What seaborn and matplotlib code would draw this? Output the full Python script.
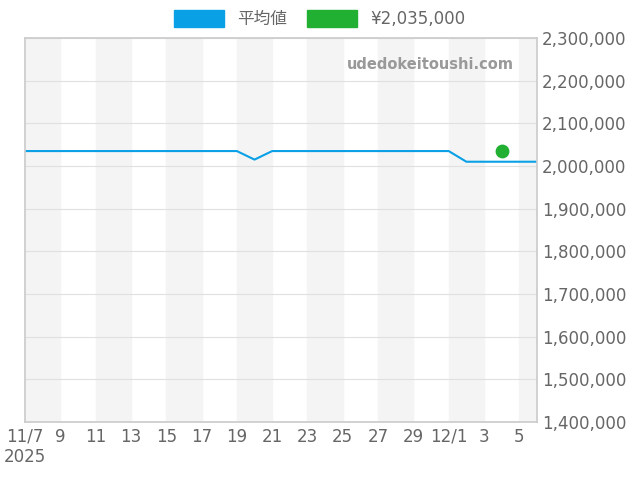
import matplotlib.pyplot as plt
import matplotlib.patches as mpatches
import numpy as np
import pandas as pd
import seaborn as sns

dates = pd.date_range("2025-11-07", "2025-12-06", freq="D")
avg_prices = [2035000] * 13 + [2015000] + [2035000] * 11 + [2010000] * 5
point_date = pd.Timestamp("2025-12-04")
point_price = 2035000

df = pd.DataFrame({"date": dates, "price": avg_prices})

sns.set_theme(style="white")
plt.rcParams["font.family"] = ["DejaVu Sans", "Noto Sans CJK JP"]

fig = plt.figure(figsize=(6.4, 4.8), dpi=100)
ax = fig.add_axes([25 / 640, 58 / 480, 512 / 640, 384 / 480])

start = pd.Timestamp("2025-11-07")
for i in range(0, 30, 4):
    ax.axvspan(start + pd.Timedelta(days=i), start + pd.Timedelta(days=i + 2),
               color="#f4f4f4", zorder=0)

sns.lineplot(data=df, x="date", y="price", color="#0aa0e6", linewidth=1.5, ax=ax)
ax.scatter([point_date], [point_price], color="#22b033", s=80, zorder=3)

ax.set_ylim(1400000, 2300000)
ax.set_xlim(start, pd.Timestamp("2025-12-06"))
ax.yaxis.tick_right()
ax.set_yticks(np.arange(1400000, 2300001, 100000))
ax.yaxis.set_major_formatter(plt.FuncFormatter(lambda v, p: f"{int(v):,}"))
ax.grid(axis="y", color="#e0e0e0", linewidth=0.8)
ax.set_axisbelow(True)

ticks = pd.date_range("2025-11-07", "2025-12-05", freq="2D")
labels = []
for t in ticks:
    if t == start:
        labels.append("11/7\n2025")
    elif t.day == 1:
        labels.append("12/1")
    else:
        labels.append(str(t.day))
ax.set_xticks(ticks)
ax.set_xticklabels(labels)
ax.tick_params(axis="both", labelsize=12, colors="#666666", length=0)
ax.tick_params(axis="x", pad=4)
ax.set_xlabel("")
ax.set_ylabel("")
for s in ax.spines.values():
    s.set_color("#cccccc")

ax.text(0.955, 0.93, "udedokeitoushi.com", transform=ax.transAxes, ha="right",
        va="center", fontsize=10.5, color="#999999", fontweight="bold")

handles = [mpatches.Patch(color="#0aa0e6", label="平均値"),
           mpatches.Patch(color="#22b033", label="¥2,035,000")]
fig.legend(handles=handles, loc="upper center", bbox_to_anchor=(0.5, 1.01), ncol=2,
           frameon=False, fontsize=12, handlelength=3, handleheight=1.2,
           labelcolor="#666666", columnspacing=1.2)

fig.savefig("out.png", dpi=100)
